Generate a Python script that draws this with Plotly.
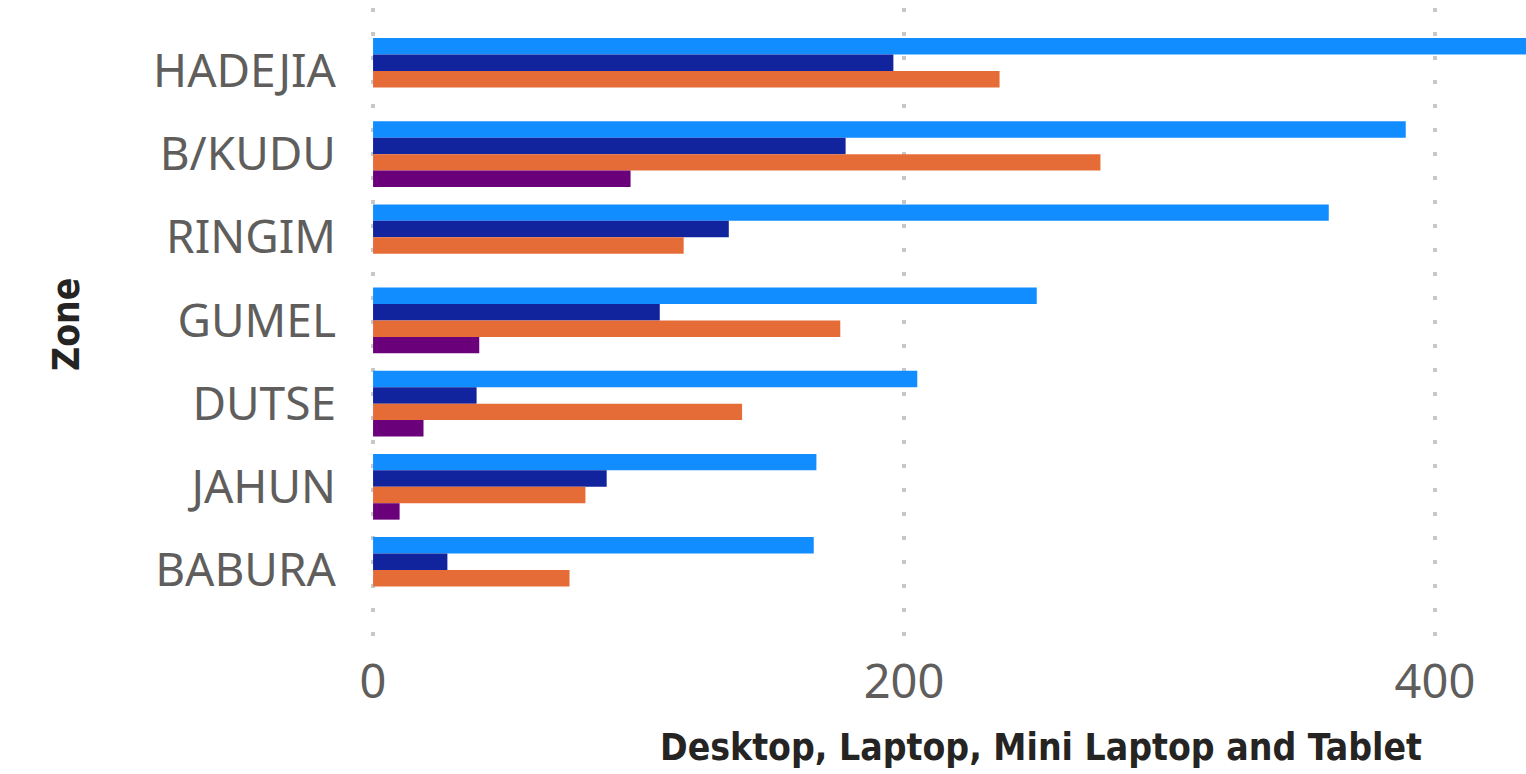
import plotly.graph_objects as go

zones = ["HADEJIA", "B/KUDU", "RINGIM", "GUMEL", "DUTSE", "JAHUN", "BABURA"]

series_names = ["Desktop", "Laptop", "Mini Laptop", "Tablet"]
desktop = [445, 389, 360, 250, 205, 167, 166]
laptop = [196, 178, 134, 108, 39, 88, 28]
mini_laptop = [236, 274, 117, 176, 139, 80, 74]
tablet = [None, 97, None, 40, 19, 10, None]

x_ticks = [0, 200, 400]

colors = ["#118DFF", "#12239E", "#E66C37", "#6B007B"]

W, H = 1526, 774
left, right, top, bottom = 372, 0, 8, 136
title_font = "Liberation Sans Narrow, DejaVu Sans Condensed, sans-serif"

fig = go.Figure()
for name, vals, col in zip(series_names, [desktop, laptop, mini_laptop, tablet], colors):
    fig.add_trace(
        go.Bar(
            y=zones,
            x=vals,
            name=name,
            orientation="h",
            marker=dict(color=col, line=dict(width=0)),
        )
    )

fig.update_layout(
    width=W,
    height=H,
    margin=dict(l=left, r=right, t=top, b=bottom, pad=0),
    barmode="group",
    bargap=0.21,
    bargroupgap=0,
    showlegend=False,
    plot_bgcolor="white",
    paper_bgcolor="white",
    font=dict(family="Noto Sans, Open Sans, sans-serif", color="#605E5C"),
)

# start a hair below 0 so the dotted gridline at 0 still gets drawn
fig.update_xaxes(
    range=[-0.4, 434.3],
    tickvals=x_ticks,
    tickfont=dict(size=47, color="#605E5C"),
    showgrid=True,
    gridcolor="#C8C8C8",
    gridwidth=4,
    griddash="4px,20px",
    zeroline=False,
    showline=False,
    ticks="",
    ticklabelstandoff=12,
)

fig.update_yaxes(
    type="category",
    range=[6.818, -0.757],
    tickfont=dict(size=46, color="#605E5C"),
    showgrid=False,
    zeroline=False,
    showline=False,
    ticks="",
    ticklabelstandoff=35,
)

plot_w = W - left - right
plot_h = H - top - bottom

fig.add_annotation(
    text="<b>Zone</b>",
    textangle=-90,
    xref="paper",
    yref="paper",
    x=(66 - left) / plot_w,
    y=(H - bottom - 325) / plot_h,
    xanchor="center",
    yanchor="middle",
    showarrow=False,
    font=dict(family=title_font, size=37, color="#252423"),
)

fig.add_annotation(
    text="<b>Desktop, Laptop, Mini Laptop and Tablet</b>",
    xref="paper",
    yref="paper",
    x=(1041 - left) / plot_w,
    y=(H - bottom - 747) / plot_h,
    xanchor="center",
    yanchor="middle",
    showarrow=False,
    font=dict(family=title_font, size=37, color="#252423"),
)

# page body has a default 8px margin, drop it so the figure sits at 0,0
fig.write_html(
    "out.html",
    config={"displayModeBar": False},
    post_script="document.body.style.margin='0';",
)
